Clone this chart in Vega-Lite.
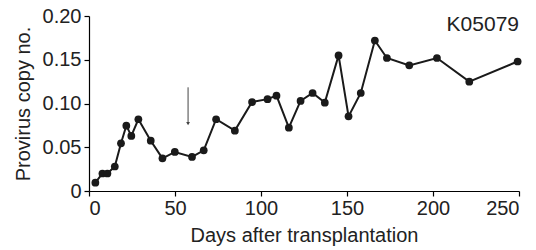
{
  "$schema": "https://vega.github.io/schema/vega-lite/v6.json",
  "width": 430,
  "height": 175,
  "autosize": "none",
  "padding": {"left": 89, "top": 16, "right": 17, "bottom": 59},
  "background": "white",
  "config": {
    "view": {"stroke": null},
    "font": "Liberation Sans",
    "axis": {
      "grid": false,
      "domainColor": "#000",
      "tickColor": "#000",
      "labelColor": "#222",
      "titleColor": "#222",
      "labelFont": "Liberation Sans",
      "titleFont": "Liberation Sans",
      "labelFontSize": 20,
      "titleFontSize": 20,
      "titleFontWeight": "normal",
      "tickSize": 5,
      "domainWidth": 1.2,
      "tickWidth": 1.2
    }
  },
  "datasets": {
    "series": [
      {"day": 3.7, "copies": 0.0095},
      {"day": 7.8, "copies": 0.020},
      {"day": 10.7, "copies": 0.020},
      {"day": 15, "copies": 0.028},
      {"day": 18.6, "copies": 0.0545},
      {"day": 21.7, "copies": 0.0747},
      {"day": 24.6, "copies": 0.063},
      {"day": 28.7, "copies": 0.082},
      {"day": 35.9, "copies": 0.0575},
      {"day": 42.7, "copies": 0.0373},
      {"day": 49.9, "copies": 0.0446},
      {"day": 59.9, "copies": 0.039},
      {"day": 66.7, "copies": 0.0465},
      {"day": 73.9, "copies": 0.082},
      {"day": 84.8, "copies": 0.069},
      {"day": 94.8, "copies": 0.1017},
      {"day": 103.8, "copies": 0.105},
      {"day": 109, "copies": 0.109},
      {"day": 116.2, "copies": 0.0724},
      {"day": 123, "copies": 0.103},
      {"day": 130, "copies": 0.112},
      {"day": 137.1, "copies": 0.101},
      {"day": 145.1, "copies": 0.155},
      {"day": 150.9, "copies": 0.0853},
      {"day": 158, "copies": 0.112},
      {"day": 166.2, "copies": 0.172},
      {"day": 173.2, "copies": 0.152},
      {"day": 186.2, "copies": 0.1436},
      {"day": 202.3, "copies": 0.152},
      {"day": 221.1, "copies": 0.125},
      {"day": 249.2, "copies": 0.148}
    ],
    "arrow": [
      {"day": 57.6, "top": 0.1185, "bottom": 0.077}
    ],
    "label": [
      {"day": 250, "copies": 0.2, "text": "K05079"}
    ]
  },
  "layer": [
    {
      "data": {"name": "series"},
      "mark": {"type": "line", "color": "#1a1a1a", "strokeWidth": 2},
      "encoding": {
        "x": {
          "field": "day", "type": "quantitative",
          "scale": {"domain": [0, 250], "nice": false},
          "axis": {"values": [0, 50, 100, 150, 200, 250], "title": "Days after transplantation", "titlePadding": 7, "labelPadding": 2}
        },
        "y": {
          "field": "copies", "type": "quantitative",
          "scale": {"domain": [0, 0.2], "nice": false},
          "axis": {
            "values": [0, 0.05, 0.1, 0.15, 0.2],
            "labelExpr": "datum.value == 0 ? '0' : format(datum.value, '.2f')",
            "title": "Provirus copy no.",
            "titlePadding": 9,
            "labelPadding": 3
          }
        }
      }
    },
    {
      "data": {"name": "series"},
      "mark": {"type": "point", "filled": true, "color": "#1a1a1a", "size": 60, "opacity": 1},
      "encoding": {
        "x": {"field": "day", "type": "quantitative"},
        "y": {"field": "copies", "type": "quantitative"}
      }
    },
    {
      "data": {"name": "arrow"},
      "mark": {"type": "rule", "color": "#444", "strokeWidth": 1},
      "encoding": {
        "x": {"field": "day", "type": "quantitative"},
        "y": {"field": "top", "type": "quantitative"},
        "y2": {"field": "bottom"}
      }
    },
    {
      "data": {"name": "arrow"},
      "mark": {"type": "point", "shape": "triangle-down", "filled": true, "color": "#444", "size": 14, "opacity": 1},
      "encoding": {
        "x": {"field": "day", "type": "quantitative"},
        "y": {"field": "bottom", "type": "quantitative"}
      }
    },
    {
      "data": {"name": "label"},
      "mark": {"type": "text", "align": "right", "baseline": "top", "fontSize": 21, "color": "#222", "font": "Liberation Sans", "dy": -2},
      "encoding": {
        "x": {"field": "day", "type": "quantitative"},
        "y": {"field": "copies", "type": "quantitative"},
        "text": {"field": "text"}
      }
    }
  ]
}
